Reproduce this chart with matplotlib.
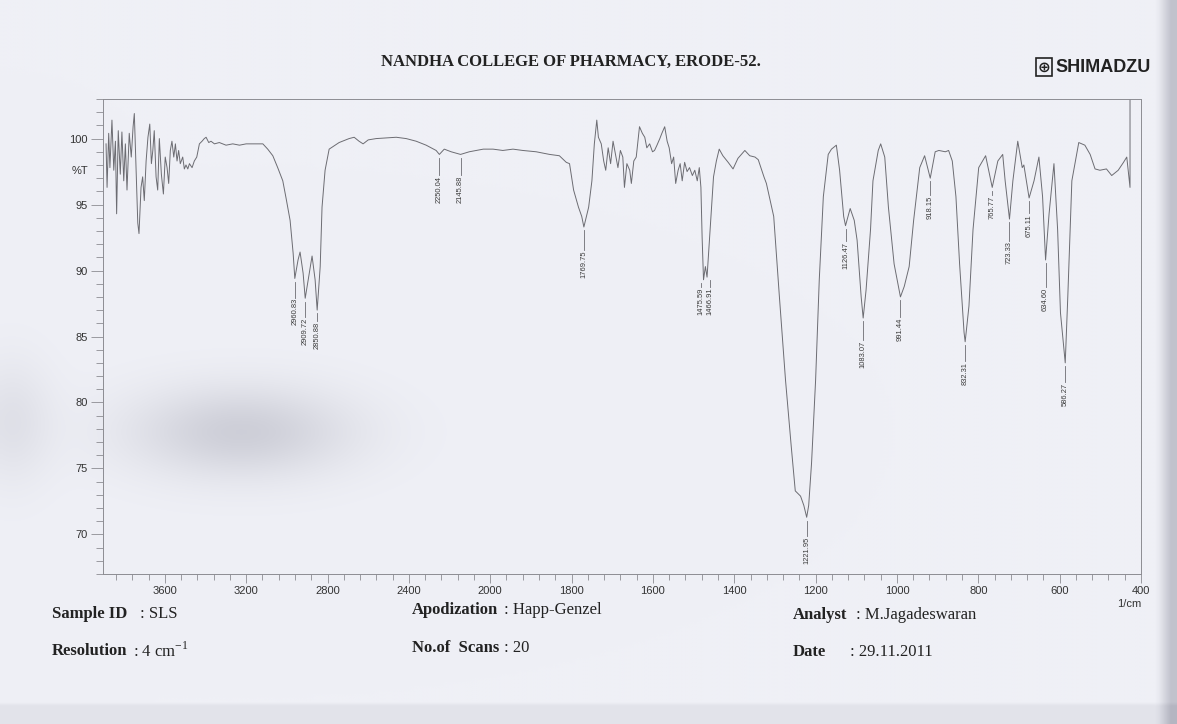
import matplotlib
matplotlib.use('Agg')
import matplotlib.pyplot as plt
import numpy as np

# IR spectrum: wavenumber (1/cm) and %T
wavenumber = [
    3889, 3884, 3876, 3870, 3860, 3851, 3843, 3837, 3829, 3819, 3811, 3802, 3794, 3786,
    3775, 3765, 3756, 3750, 3742, 3733, 3727, 3717, 3709, 3701, 3692, 3683, 3674, 3666,
    3659, 3652, 3643, 3635, 3627, 3617, 3607, 3598, 3589, 3581, 3573, 3565, 3556, 3548,
    3540, 3532, 3524, 3512, 3504, 3496, 3487, 3479, 3466, 3455, 3443, 3430, 3417, 3406,
    3397, 3384, 3373, 3356, 3332, 3299, 3266, 3233, 3200, 3151, 3118, 3094, 3069, 3045,
    3020, 3004, 2984, 2969, 2960.83, 2945, 2935, 2920, 2909.72, 2890, 2876, 2861, 2850.88,
    2836, 2827, 2812, 2792, 2743, 2694, 2669, 2645, 2625, 2600, 2561, 2462, 2413, 2364,
    2315, 2266, 2250.04, 2226, 2192, 2145.88, 2103, 2034, 1993, 1969, 1944, 1920, 1887,
    1854, 1830, 1813, 1805, 1795, 1783, 1775, 1769.75, 1758, 1750, 1744, 1738, 1734, 1727,
    1721, 1716, 1710, 1704, 1698, 1692, 1686, 1680, 1674, 1670, 1664, 1657, 1653, 1647,
    1641, 1633, 1626, 1620, 1615, 1608, 1601, 1596, 1590, 1583, 1578, 1571, 1565, 1560,
    1554, 1549, 1544, 1538, 1533, 1528, 1522, 1516, 1510, 1503, 1497, 1491, 1486, 1482,
    1479, 1475.59, 1471, 1466.91, 1459, 1451, 1444, 1437, 1428, 1415, 1403, 1391, 1374,
    1362, 1349, 1341, 1327, 1321, 1303, 1289, 1274, 1260, 1250, 1237, 1229, 1221.95, 1217,
    1210, 1200, 1191, 1181, 1169, 1161, 1149, 1141, 1131, 1126.47, 1115, 1105, 1098, 1088,
    1083.07, 1076, 1065, 1059, 1046, 1040, 1030, 1021, 1007, 991.44, 982, 970, 959, 944,
    932, 918.15, 906, 897, 881, 873, 864, 855, 846, 835, 832.31, 823, 813, 799, 782,
    765.77, 752, 740, 734, 723.33, 715, 703, 692, 688, 675.11, 663, 651, 642, 634.60, 626,
    614, 605, 598, 586.27, 580, 570, 553, 538, 525, 513, 501, 485, 472, 456, 443, 435,
    427, 427]
transmittance = [
    99.6, 96.3, 100.4, 97.8, 101.4, 97.6, 99.8, 94.3, 100.6, 97.3, 100.5, 96.8, 99.6, 96.1,
    100.4, 98.6, 100.9, 101.9, 98.1, 93.6, 92.8, 96.3, 97.1, 95.3, 98.3, 100.1, 101.1, 98.1,
    99.1, 100.6, 97.1, 96.1, 100.0, 97.3, 95.8, 98.6, 97.8, 96.6, 99.1, 99.8, 98.6, 99.6,
    98.3, 99.1, 98.1, 98.6, 97.7, 98.0, 97.7, 98.1, 97.8, 98.3, 98.6, 99.6, 99.8, 100.0,
    100.1, 99.7, 99.8, 99.6, 99.7, 99.5, 99.6, 99.5, 99.6, 99.6, 99.6, 99.2, 98.7, 97.8,
    96.8, 95.5, 93.8, 91.3, 89.4, 90.8, 91.4, 89.8, 87.9, 89.8, 91.1, 89.3, 87.0,
    90.3, 94.8, 97.6, 99.2, 99.7, 100.0, 100.1, 99.8, 99.6, 99.9, 100.0, 100.1, 100.0, 99.8,
    99.5, 99.1, 98.8, 99.2, 99.0, 98.8, 99.0, 99.2, 99.2, 99.1, 99.2, 99.1, 99.0,
    98.8, 98.7, 98.2, 98.1, 96.1, 94.8, 94.1, 93.3, 94.8, 96.8, 99.6, 101.4, 100.1, 99.6,
    98.3, 97.6, 99.3, 98.1, 99.8, 98.8, 97.8, 99.1, 98.6, 96.3, 98.1, 97.6, 96.6, 98.3,
    98.6, 100.9, 100.4, 100.1, 99.3, 99.6, 99.0, 99.1, 99.5, 100.0, 100.4, 100.9, 99.8, 99.3,
    98.1, 98.6, 96.6, 97.6, 98.1, 96.8, 98.2, 97.5, 97.8, 97.2, 97.6, 96.8, 97.8, 96.3,
    92.5, 89.3, 90.3, 89.5, 93.3, 97.1, 98.3, 99.2, 98.7, 98.2, 97.7, 98.5, 99.1,
    98.7, 98.6, 98.4, 97.1, 96.6, 94.1, 88.0, 81.7, 76.7, 73.3, 72.9, 72.2, 71.3, 72.2,
    75.4, 81.7, 89.3, 95.6, 98.8, 99.2, 99.5, 97.6, 94.1, 93.4, 94.7, 93.8, 92.3, 88.0,
    86.4, 88.5, 93.1, 96.8, 99.1, 99.6, 98.6, 94.8, 90.5, 88.0, 88.8, 90.3, 93.8, 97.8,
    98.7, 97.0, 99.0, 99.1, 99.0, 99.1, 98.3, 95.6, 90.5, 85.3, 84.6, 87.3, 93.1, 97.8, 98.7,
    96.3, 98.3, 98.8, 96.8, 93.9, 96.8, 99.8, 97.8, 98.0, 95.5, 96.8, 98.6, 95.6, 90.8, 94.3,
    98.1, 93.1, 86.8, 83.0, 88.0, 96.8, 99.7, 99.5, 98.8, 97.7, 97.6, 97.7, 97.2, 97.6, 98.2, 98.6,
    96.3, 103.5]

# labelled peaks
peak_wn = [2960.83, 2909.72, 2850.88, 2250.04, 2145.88, 1769.75, 1475.59, 1466.91,
           1221.95, 1126.47, 1083.07, 991.44, 918.15, 832.31, 765.77, 723.33, 675.11,
           634.60, 586.27]
peak_t = [89.4, 87.9, 87.0, 98.8, 98.8, 93.3, 89.3, 89.5, 71.3, 93.4, 86.4, 88.0, 97.0,
          84.6, 96.3, 93.9, 95.5, 90.8, 83.0]

x_major = [3600, 3200, 2800, 2400, 2000, 1800, 1600, 1400, 1200, 1000, 800, 600, 400]
y_major = [70, 75, 80, 85, 90, 95, 100]

# label layout: gap (in %T) between the dip and the top of its label, and label x shift
label_gap = [1.5, 1.5, 0.9, 1.6, 1.6, 1.8, 0.6, 0.8, 1.5, 1.2, 1.7, 1.6, 1.3, 1.5, 0.6,
             1.7, 1.2, 2.1, 1.5]
label_dx = {1475.59: 6, 1466.91: -8}

W, H = 1177, 724
paper = '#eff0f6'
grey = '#6c6c72'
ink = '#222222'


def fwd(w):
    w = np.asarray(w, dtype=float)
    return np.where(w > 2000, 2000 + (w - 2000) / 2, w)


def inv(u):
    u = np.asarray(u, dtype=float)
    return np.where(u > 2000, 2000 + (u - 2000) * 2, u)


def fx(x):
    return x / W


def fy(y):
    return 1 - y / H


fig = plt.figure(figsize=(W / 100, H / 100), dpi=100)
fig.patch.set_facecolor(paper)

# scanned paper: grey smudge, darker right edge and bottom fold
bg = fig.add_axes([0, 0, 1, 1], zorder=-5)
bg.set_xlim(0, W)
bg.set_ylim(H, 0)
bg.axis('off')
gx, gy = np.meshgrid(np.arange(0, W, 4), np.arange(0, H, 4))
shade = 0.13 * np.exp(-(((gx - 240) / 110) ** 2 + ((gy - 430) / 45) ** 2))
shade += 0.06 * np.exp(-(((gx - 10) / 40) ** 2 + ((gy - 420) / 60) ** 2))
shade += 0.18 * np.clip((gx - 1158) / 14, 0, 1)
shade += 0.05 * (gy > 702)
base = np.array([0xef, 0xf0, 0xf6]) / 255
img = np.clip(base[None, None, :] - shade[:, :, None] * np.array([1.0, 1.0, 0.9]), 0, 1)
bg.imshow(img, extent=[0, W, H, 0], interpolation='bilinear', aspect='auto')

ax = fig.add_axes([fx(103), fy(574), fx(1141) - fx(103), fy(99) - fy(574)])
ax.set_facecolor('none')
ax.set_xscale('function', functions=(fwd, inv))
ax.set_xlim(3904, 400)
ax.set_ylim(67, 103)

ax.plot(wavenumber, transmittance, color=grey, lw=0.7)

for w, t, g in zip(peak_wn, peak_t, label_gap):
    lx = w + label_dx.get(w, 0)
    top = t - g
    ax.plot([lx, lx], [t - 0.25, top + 0.05], color=grey, lw=0.6)
    ax.text(lx, top, '%.2f' % w, rotation=90, ha='center', va='top',
            fontsize=5.4, family='Liberation Sans', color='#3a3a3a')

x_minor = [v for v in list(range(3840, 2000, -80)) + list(range(1960, 400, -40))
           if v not in x_major]
ax.set_xticks(x_major)
ax.set_xticklabels([str(v) for v in x_major])
ax.set_xticks(x_minor, minor=True)
ax.set_yticks(y_major)
ax.set_yticks(np.arange(67, 104, 1), minor=True)

for s in ax.spines.values():
    s.set_color('#8c8c92')
    s.set_linewidth(0.7)

ax.tick_params(axis='x', which='major', direction='out', length=6.5, width=0.6,
               color='#8c8c92', labelsize=8, labelcolor='#333333', pad=2)
ax.tick_params(axis='x', which='minor', direction='out', length=4.5, width=0.6,
               color='#8c8c92')
ax.tick_params(axis='y', which='major', direction='out', length=9, width=0.6,
               color='#8c8c92', labelsize=8, labelcolor='#333333', pad=2)
ax.tick_params(axis='y', which='minor', direction='out', length=5, width=0.6,
               color='#8c8c92')
for lab in ax.get_xticklabels() + ax.get_yticklabels():
    lab.set_family('Liberation Sans')

fig.text(fx(88), fy(171), '%T', ha='right', va='center', fontsize=8,
         family='Liberation Sans', color='#333333')
fig.text(fx(1141), fy(604), '1/cm', ha='right', va='center', fontsize=8,
         family='Liberation Sans', color='#333333')

# header
fig.text(fx(571), fy(62), 'NANDHA COLLEGE OF PHARMACY, ERODE-52.', ha='center',
         va='center', fontsize=12, family='Liberation Serif', weight='bold',
         color=ink)
fig.text(fx(1044), fy(67), '\u2295', ha='center', va='center', fontsize=11,
         family='DejaVu Sans', weight='bold', color=ink,
         bbox=dict(boxstyle='square,pad=0.08', fc='none', ec=ink, lw=1.2))
fig.text(fx(1055), fy(67), 'SHIMADZU', ha='left', va='center', fontsize=13,
         family='Liberation Sans', weight='bold', color=ink)

# footer
info = [
    (52, 614, 'Sample ID', 140, ': SLS'),
    (52, 651, 'Resolution', 133, r': 4 cm$^{\mathregular{-1}}$'),
    (412, 610, 'Apodization', 504, ': Happ-Genzel'),
    (412, 648, 'No.of  Scans', 504, ': 20'),
    (793, 615, 'Analyst', 856, ': M.Jagadeswaran'),
    (793, 652, 'Date', 850, ': 29.11.2011'),
]
for x0, y0, key, x1, val in info:
    fig.text(fx(x0), fy(y0), key, ha='left', va='center', fontsize=12,
             family='Liberation Serif', weight='bold', color=ink)
    fig.text(fx(x1), fy(y0), val, ha='left', va='center', fontsize=12,
             family='Liberation Serif', color=ink)

fig.savefig('out.png', dpi=100, facecolor=fig.get_facecolor())
